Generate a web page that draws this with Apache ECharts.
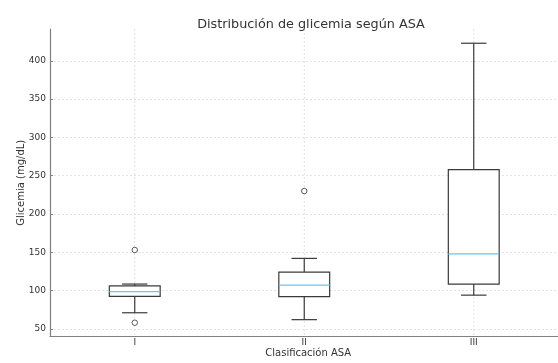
<!DOCTYPE html>
<html>
<head>
<meta charset="utf-8">
<script src="https://cdn.jsdelivr.net/npm/echarts@6/dist/echarts.min.js"></script>
<style>html,body{margin:0;padding:0;background:#fff;}#c{width:558px;height:363px;}</style>
</head>
<body>
<div id="c"></div>
<script>
var categories = ['I', 'II', 'III'];
var lowWhisker = [71, 62, 94];
var q1 = [92.5, 92, 108.5];
var median = [98.5, 107, 148];
var q3 = [106, 124, 258];
var highWhisker = [108.5, 142, 423];
var outliers = [[0, 153], [0, 58], [1, 230]];

var boxData = categories.map(function (c, i) {
  return [i, lowWhisker[i], q1[i], median[i], q3[i], highWhisker[i]];
});

var chart = echarts.init(document.getElementById('c'));
var font = 'DejaVu Sans';
var gridStyle = {color: '#dcdcdc', type: [2, 2], width: 0.8};
chart.setOption({
  animation: false,
  backgroundColor: '#fff',
  title: {
    text: 'Distribución de glicemia según ASA',
    left: 306, top: 13, textAlign: 'center',
    textStyle: {fontFamily: font, fontSize: 12.8, fontWeight: 'normal', color: '#333'}
  },
  grid: {left: 50, right: -0.5, top: 29, bottom: 26.5, outerBoundsMode: 'none', containLabel: false},
  xAxis: {
    type: 'category',
    data: categories,
    boundaryGap: true,
    name: 'Clasificación ASA',
    nameLocation: 'middle',
    nameGap: 12,
    nameMoveOverlap: false,
    nameTextStyle: {fontFamily: font, fontSize: 10, color: '#333', padding: [0, 0, 0, 8]},
    axisLine: {lineStyle: {color: '#808080', width: 1.2}},
    axisTick: {alignWithLabel: true, length: 3, lineStyle: {color: '#808080'}},
    axisLabel: {fontFamily: font, fontSize: 9, color: '#333', margin: 2},
    splitLine: {show: false}
  },
  yAxis: {
    type: 'value',
    min: 40, max: 441.6,
    splitNumber: 8,
    name: 'Glicemia (mg/dL)',
    nameLocation: 'middle',
    nameGap: 24,
    nameMoveOverlap: false,
    nameTextStyle: {fontFamily: font, fontSize: 10, color: '#333'},
    axisLine: {show: true, lineStyle: {color: '#808080', width: 1.2}},
    axisTick: {show: true, inside: true, length: 3, lineStyle: {color: '#808080'}},
    axisLabel: {fontFamily: font, fontSize: 9, color: '#333', margin: 4,
      showMinLabel: false, showMaxLabel: false,
      formatter: function (v) { return v % 50 === 0 ? String(v) : ''; }},
    splitLine: {show: true, showMinLine: false, showMaxLine: false, lineStyle: gridStyle}
  },
  series: [
    {
      type: 'custom',
      data: boxData,
      encode: {x: 0, y: [1, 2, 3, 4, 5]},
      renderItem: function (params, api) {
        var idx = api.value(0);
        var band = api.size([1, 0])[0];
        var bw = band * 0.3;
        var cw = bw / 2;
        var pLow = api.coord([idx, api.value(1)]);
        var pQ1 = api.coord([idx, api.value(2)]);
        var pMed = api.coord([idx, api.value(3)]);
        var pQ3 = api.coord([idx, api.value(4)]);
        var pHigh = api.coord([idx, api.value(5)]);
        var x = pQ1[0];
        var cs = params.coordSys;
        var st = {stroke: '#3a3a3a', lineWidth: 1.2, fill: null};
        return {
          type: 'group',
          children: [
            {type: 'line', shape: {x1: x, y1: cs.y, x2: x, y2: cs.y + cs.height},
              style: {stroke: gridStyle.color, lineWidth: gridStyle.width, lineDash: gridStyle.type}},
            {type: 'line', shape: {x1: x, y1: pQ3[1], x2: x, y2: pHigh[1]}, style: st},
            {type: 'line', shape: {x1: x, y1: pQ1[1], x2: x, y2: pLow[1]}, style: st},
            {type: 'line', shape: {x1: x - cw / 2, y1: pHigh[1], x2: x + cw / 2, y2: pHigh[1]}, style: st},
            {type: 'line', shape: {x1: x - cw / 2, y1: pLow[1], x2: x + cw / 2, y2: pLow[1]}, style: st},
            {type: 'rect', shape: {x: x - bw / 2, y: pQ3[1], width: bw, height: pQ1[1] - pQ3[1]},
              style: {stroke: '#3a3a3a', lineWidth: 1.2, fill: '#fff'}},
            {type: 'line', shape: {x1: x - bw / 2, y1: pMed[1], x2: x + bw / 2, y2: pMed[1]},
              style: {stroke: '#6ec1f0', lineWidth: 1.2}}
          ]
        };
      },
      z: 3
    },
    {
      type: 'scatter',
      data: outliers,
      symbol: 'circle',
      symbolSize: 5.5,
      itemStyle: {color: '#fff', borderColor: '#333', borderWidth: 1},
      z: 4
    }
  ]
});
</script>
</body>
</html>
